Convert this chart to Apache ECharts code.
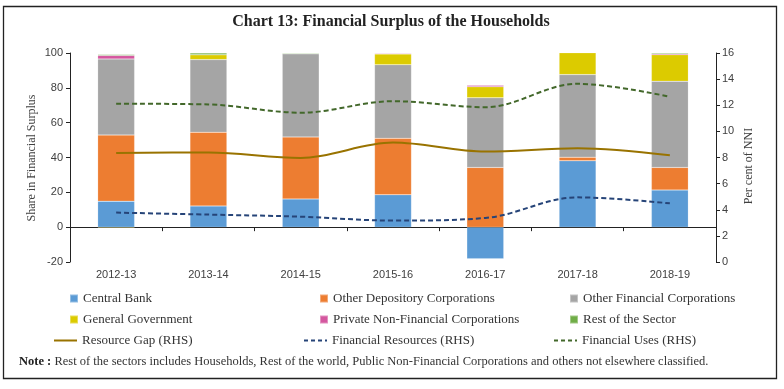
<!DOCTYPE html>
<html><head><meta charset="utf-8">
<script src="https://cdn.jsdelivr.net/npm/echarts@6/dist/echarts.min.js"></script>
<style>html,body{margin:0;padding:0;background:#fff}#c{width:784px;height:389px}</style>
</head><body><div id="c"></div>
<script>
const categories = ['2012-13','2013-14','2014-15','2015-16','2016-17','2017-18','2018-19'];
const centralBank = [14.9, 12.2, 16.2, 18.6, -18.1, 38.1, 21.3];
const otherDepository = [38.0, 42.3, 35.6, 32.4, 34.3, 2.1, 13.0];
const otherFinancial = [43.7, 41.7, 47.8, 42.3, 40.0, 47.4, 49.5];
const generalGov = [-0.5, 2.8, 0.0, 6.1, 6.3, 12.6, 15.2];
const privateNonFin = [2.0, 0.0, 0.0, 0.4, 0.9, 0.0, 0.6];
const restOfSector = [0.6, 1.0, 0.4, 0.2, 0.3, 0.0, 0.6];
const resourceGap = [8.35, 8.39, 7.97, 9.14, 8.45, 8.71, 8.17];
const financialResources = [3.78, 3.63, 3.47, 3.17, 3.37, 4.95, 4.49];
const financialUses = [12.12, 12.06, 11.43, 12.31, 11.85, 13.64, 12.65];
const leftTicks = {min: -20, max: 100, interval: 20};
const rightTicks = {min: 0, max: 16, interval: 2};

const serif = '"Liberation Serif", serif';
const sans = '"Liberation Sans", Arial, sans-serif';
const axisColor = '#222';
const labelColor = '#404040';

const barDefs = [
  ['Central Bank', centralBank, '#5B9BD5'],
  ['Other Depository Corporations', otherDepository, '#ED7D31'],
  ['Other Financial Corporations', otherFinancial, '#A5A5A5'],
  ['General Government', generalGov, '#DCCB00'],
  ['Private Non-Financial Corporations', privateNonFin, '#D4579F'],
  ['Rest of the Sector', restOfSector, '#70AD47']
];
const lineDefs = [
  ['Resource Gap (RHS)', resourceGap, '#997300', 'solid'],
  ['Financial Resources (RHS)', financialResources, '#264478', [5,3]],
  ['Financial Uses (RHS)', financialUses, '#43682B', [5,3]]
];

const series = [];
barDefs.forEach(d => series.push({
  name: d[0], type: 'bar', stack: 'total', data: d[1], barWidth: '40%',
  xAxisIndex: 0, yAxisIndex: 0,
  itemStyle: {color: d[2], borderColor: 'rgba(255,255,255,0.35)', borderWidth: 0.5}
}));
lineDefs.forEach(d => series.push({
  name: d[0], type: 'line', data: d[1], xAxisIndex: 0, yAxisIndex: 1,
  smooth: 0.35, symbol: 'none', z: 5,
  lineStyle: {color: d[2], width: 2, type: d[3]}, itemStyle: {color: d[2]}
}));

const colX = [69, 319, 569];
const rowY = [300, 321, 342];
const legends = [];
barDefs.forEach((d, i) => {
  const col = i % 3, row = Math.floor(i / 3);
  legends.push({data: [d[0]], left: colX[col], top: rowY[row] - 8, padding: 0,
    itemWidth: 8, itemHeight: 8, icon: 'rect', selectedMode: false,
    textStyle: {fontFamily: serif, fontSize: 13, color: '#333'}});
});
lineDefs.forEach((d, i) => {
  legends.push({data: [{name: d[0], itemStyle: {opacity: 0}}], left: colX[i] - 16, top: rowY[2] - 8, padding: 0,
    itemWidth: 23, itemHeight: 8, selectedMode: false,
    itemStyle: {opacity: 0},
    lineStyle: {color: d[2], width: 2, type: d[3] === 'solid' ? 'solid' : [4, 3]},
    textStyle: {fontFamily: serif, fontSize: 13, color: '#333'}});
});

const chart = echarts.init(document.getElementById('c'), null, {renderer: 'canvas'});
chart.setOption({
  animation: false,
  backgroundColor: '#fff',
  grid: {left: 70, right: 68, top: 53, bottom: 127},
  legend: legends,
  xAxis: [
    {type: 'category', data: categories, position: 'bottom',
     axisLine: {onZero: true, lineStyle: {color: axisColor, width: 1}},
     axisTick: {show: true, length: 4, lineStyle: {color: axisColor}},
     axisLabel: {show: false}, splitLine: {show: false}},
    {type: 'category', data: categories, position: 'bottom',
     axisLine: {show: false, onZero: false}, axisTick: {show: false},
     axisLabel: {show: true, margin: 7, fontFamily: sans, fontSize: 11, color: labelColor},
     splitLine: {show: false}}
  ],
  yAxis: [
    {type: 'value', min: leftTicks.min, max: leftTicks.max, interval: leftTicks.interval,
     axisLine: {show: true, lineStyle: {color: axisColor}},
     axisTick: {show: true, length: 4, lineStyle: {color: axisColor}},
     axisLabel: {margin: 7, fontFamily: sans, fontSize: 11, color: labelColor},
     splitLine: {show: false}},
    {type: 'value', min: rightTicks.min, max: rightTicks.max, interval: rightTicks.interval,
     position: 'right',
     axisLine: {show: true, onZero: false, lineStyle: {color: axisColor}},
     axisTick: {show: true, length: 4, lineStyle: {color: axisColor}},
     axisLabel: {margin: 6, fontFamily: sans, fontSize: 11, color: labelColor},
     splitLine: {show: false}}
  ],
  series: series,
  graphic: [
    {type: 'rect', shape: {x: 3.5, y: 6.5, width: 773, height: 372},
     style: {fill: 'none', stroke: '#222', lineWidth: 1.3}, silent: true},
    {type: 'text', x: 391, y: 22,
     style: {text: 'Chart 13: Financial Surplus of the Households', fontFamily: serif,
       fontSize: 16, fontWeight: 'bold', fill: '#222', align: 'center', verticalAlign: 'middle'}},
    {type: 'text', x: 32, y: 158, rotation: Math.PI / 2,
     style: {text: 'Share in Financial Surplus', fontFamily: serif, fontSize: 12,
       fill: labelColor, align: 'center', verticalAlign: 'middle'}},
    {type: 'text', x: 749, y: 166, rotation: Math.PI / 2,
     style: {text: 'Per cent of NNI', fontFamily: serif, fontSize: 12,
       fill: labelColor, align: 'center', verticalAlign: 'middle'}},
    {type: 'text', x: 19, y: 362,
     style: {text: '{b|Note :} Rest of the sectors includes Households, Rest of the world, Public Non-Financial Corporations and others not elsewhere classified.',
       fontFamily: serif, fontSize: 12.5, fill: '#333', verticalAlign: 'middle',
       rich: {b: {fontFamily: serif, fontSize: 12.5, fontWeight: 'bold', fill: '#222'}}}}
  ]
});
</script></body></html>
